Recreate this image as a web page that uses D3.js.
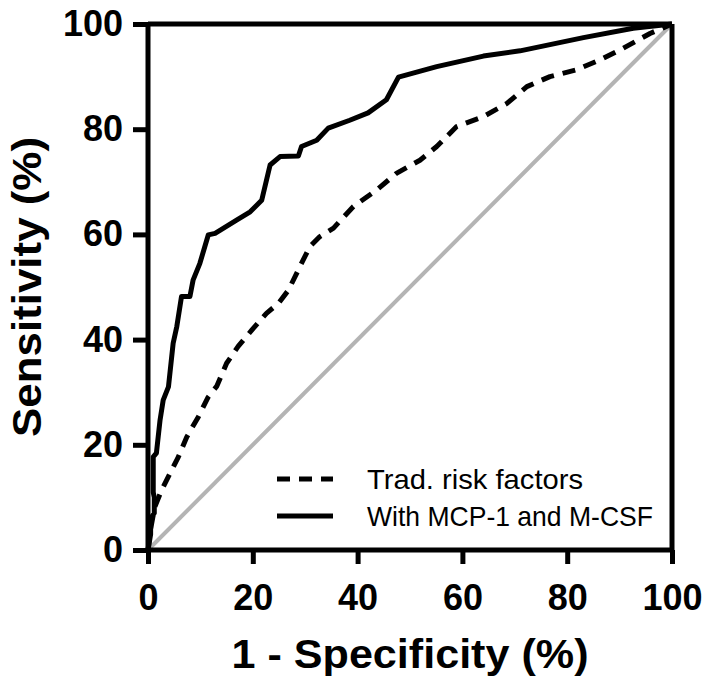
<!DOCTYPE html>
<html><head><meta charset="utf-8">
<script src="https://cdn.jsdelivr.net/npm/d3@7"></script>
<style>
html,body{margin:0;padding:0;background:#fff;}
svg{display:block;}
text{font-family:Arial,"Liberation Sans",sans-serif;}
</style>
</head><body>
<svg id="chart" width="709" height="684"></svg>
<script>
// Data
const xTicks = [0, 20, 40, 60, 80, 100];
const yTicks = [0, 20, 40, 60, 80, 100];
const xTitle = "1 - Specificity (%)";
const yTitle = "Sensitivity (%)";
const seriesNames = ["Trad. risk factors", "With MCP-1 and M-CSF"];

const fprTrad = [0, 0.5, 1.3, 2.6, 5.8, 7.4, 9.6, 11.5, 13.1, 15.0, 17.2, 19.8, 22.6, 24.9, 26.8, 29.0, 30.9, 32.8, 35.4, 39.2, 43.6, 47.4, 51.9, 55.1, 58.9, 64.0, 68.5, 72.3, 76.7, 81.8, 86.3, 90.7, 95.8, 100];
const tprTrad = [0, 4, 8.2, 11.4, 17.7, 21.5, 25.3, 29.1, 31.1, 35.5, 38.7, 41.8, 45.0, 46.9, 49.4, 53.9, 57.7, 59.6, 61.2, 65.3, 68.4, 71.6, 74.1, 76.7, 80.5, 82.4, 84.9, 88.1, 90.0, 91.3, 93.2, 95.4, 98.2, 100];

const fprMcp = [0, 0.5, 0.5, 1.2, 1.2, 1.0, 1.0, 1.6, 2.3, 2.9, 3.9, 4.8, 5.5, 6.4, 8.0, 8.6, 9.9, 11.5, 12.8, 16.9, 19.5, 21.7, 23.3, 25.2, 28.7, 29.3, 32.2, 34.4, 38.5, 42.0, 45.5, 47.8, 55.1, 64.0, 71.0, 83.1, 92.6, 100];
const tprMcp = [0, 3, 6, 7, 10, 11, 17.7, 18.4, 24.7, 28.5, 31, 39.3, 42.5, 48.2, 48.2, 51.3, 54.5, 59.9, 60.2, 62.7, 64.3, 66.5, 73.2, 74.8, 74.9, 76.7, 77.9, 80.2, 81.7, 83.1, 85.6, 89.9, 91.9, 93.9, 94.9, 97.4, 99.2, 100];

const refLine = [0, 100];

// Layout
const mLeft = 148, mTop = 24, mRight = 672, mBottom = 550;
const svg = d3.select("#chart");
const x = d3.scaleLinear().domain([0, 100]).range([mLeft, mRight]);
const y = d3.scaleLinear().domain([0, 100]).range([mBottom, mTop]);

// reference diagonal
svg.append("line")
  .attr("x1", x(refLine[0])).attr("y1", y(refLine[0]))
  .attr("x2", x(refLine[1])).attr("y2", y(refLine[1]))
  .attr("stroke", "#b4b4b4").attr("stroke-width", 4);

const line = d3.line().x(d => x(d[0])).y(d => y(d[1]));
const tradPts = fprTrad.map((v, i) => [v, tprTrad[i]]);
const mcpPts = fprMcp.map((v, i) => [v, tprMcp[i]]);

svg.append("path").attr("d", line(tradPts))
  .attr("fill", "none").attr("stroke", "#000").attr("stroke-width", 5)
  .attr("stroke-dasharray", "13,9").attr("stroke-linejoin", "round");
svg.append("path").attr("d", line(mcpPts))
  .attr("fill", "none").attr("stroke", "#000").attr("stroke-width", 5)
  .attr("stroke-linejoin", "round");

// frame top & right
svg.append("line").attr("x1", x(0)).attr("x2", x(100)).attr("y1", y(100)).attr("y2", y(100))
  .attr("stroke", "#000").attr("stroke-width", 5);
svg.append("line").attr("x1", x(100)).attr("x2", x(100)).attr("y1", y(0)).attr("y2", y(100))
  .attr("stroke", "#000").attr("stroke-width", 5);

// axes
const xAxis = svg.append("g").attr("transform", `translate(0,${mBottom})`)
  .call(d3.axisBottom(x).tickValues(xTicks).tickSize(14).tickPadding(20).tickFormat(d3.format("d")));
const yAxis = svg.append("g").attr("transform", `translate(${mLeft},0)`)
  .call(d3.axisLeft(y).tickValues(yTicks).tickSize(15).tickPadding(10).tickFormat(d3.format("d")));
[xAxis, yAxis].forEach(g => {
  g.select(".domain").attr("stroke", "#000").attr("stroke-width", 5);
  g.selectAll(".tick line").attr("stroke", "#000").attr("stroke-width", 5);
  g.selectAll(".tick text").attr("fill", "#000")
    .style("font-size", "36px").style("font-weight", "bold")
    .style("font-family", "Arial, 'Liberation Sans', sans-serif");
});
xAxis.select(".domain").attr("d", `M${mLeft},0H${mRight}`);
yAxis.select(".domain").attr("d", `M0,${mTop}V${mBottom}`);

// titles
svg.append("text").attr("x", (mLeft + mRight) / 2).attr("y", 668)
  .attr("text-anchor", "middle").style("font-size", "40px").style("font-weight", "bold")
  .attr("textLength", 357).attr("lengthAdjust", "spacingAndGlyphs")
  .text(xTitle);
svg.append("text").attr("transform", `translate(41,${(mTop + mBottom) / 2}) rotate(-90)`)
  .attr("text-anchor", "middle").style("font-size", "40px").style("font-weight", "bold")
  .attr("textLength", 300).attr("lengthAdjust", "spacingAndGlyphs")
  .text(yTitle);

// legend
const lg = svg.append("g");
const legendY = [479, 516];
const legendLen = [216, 286];
const dashes = ["13,9", null];
seriesNames.forEach((name, i) => {
  const l = lg.append("line").attr("x1", 277).attr("x2", 333)
    .attr("y1", legendY[i]).attr("y2", legendY[i])
    .attr("stroke", "#000").attr("stroke-width", 5);
  if (dashes[i]) l.attr("stroke-dasharray", dashes[i]);
  lg.append("text").attr("x", 367).attr("y", legendY[i] + 9.5)
    .style("font-size", "28px")
    .attr("textLength", legendLen[i]).attr("lengthAdjust", "spacingAndGlyphs")
    .text(name);
});
</script>
</body></html>
